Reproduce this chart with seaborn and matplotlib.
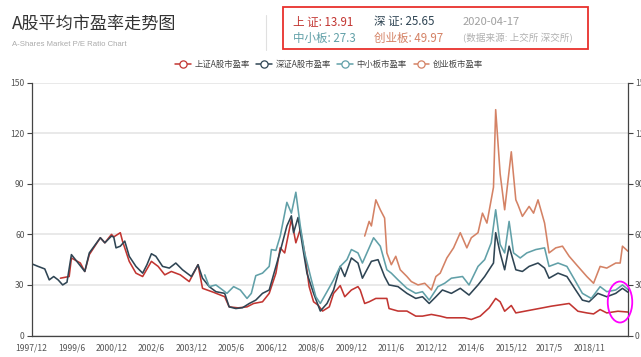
import matplotlib
matplotlib.use("Agg")
import matplotlib.pyplot as plt
from matplotlib.lines import Line2D
from matplotlib.patches import Ellipse, Rectangle
import seaborn as sns
import pandas as pd

# ---------------- data ----------------
sh_dates = ["1999-01", "1999-05", "1999-06", "1999-10", "1999-12", "2000-02", "2000-07", "2000-09",
            "2000-12", "2001-01", "2001-04", "2001-05", "2001-08", "2001-11", "2002-02", "2002-06",
            "2002-09", "2002-12", "2003-03", "2003-07", "2003-11", "2004-03", "2004-05", "2004-10",
            "2005-03", "2005-05", "2005-09", "2006-01", "2006-04", "2006-08", "2006-11", "2007-02",
            "2007-04", "2007-06", "2007-09", "2007-11", "2008-01", "2008-03", "2008-05", "2008-07",
            "2008-09", "2008-11", "2009-02", "2009-04", "2009-07", "2009-09", "2009-12", "2010-03",
            "2010-04", "2010-06", "2010-08", "2010-11", "2011-02", "2011-04", "2011-05", "2011-09",
            "2012-01", "2012-05", "2012-08", "2012-12", "2013-04", "2013-07", "2013-11", "2014-03",
            "2014-06", "2014-10", "2015-02", "2015-05", "2015-07", "2015-09", "2015-12", "2016-02",
            "2016-06", "2016-10", "2017-02", "2017-06", "2017-11", "2018-02", "2018-06", "2018-10",
            "2019-01", "2019-04", "2019-07", "2019-12", "2020-04-17"]
sh_pe = [34, 35, 46, 43, 38, 48, 58, 55,
         60, 58.5, 61, 56, 44, 37, 35, 44,
         41, 36, 38, 36, 32, 42, 28, 25.6,
         23, 17, 16.4, 17, 19, 20, 25, 37,
         52, 49, 69, 55, 63, 49, 29, 20,
         18, 14.5, 17, 25, 29.6, 23, 27, 29,
         27, 19, 20, 22, 22, 22, 16, 14.5,
         14.5, 11.5, 11.5, 12.5, 11.5, 10.5, 10.5, 10.5,
         9.5, 11.5, 16.4, 22, 20, 14.4, 17.8, 13.4,
         14.4, 15.4, 16.4, 17.4, 18.4, 19, 14.4, 13.4,
         12.8, 15.4, 13.4, 14.4, 13.91]

sz_dates = ["1997-12", "1998-03", "1998-06", "1998-08", "1998-10", "1998-12", "1999-02", "1999-04",
            "1999-06", "1999-09", "1999-12", "2000-02", "2000-07", "2000-09", "2000-12", "2001-01",
            "2001-02", "2001-04", "2001-06", "2001-08", "2001-11", "2002-02", "2002-04", "2002-06",
            "2002-08", "2002-11", "2003-02", "2003-05", "2003-08", "2003-12", "2004-03", "2004-05",
            "2004-08", "2004-11", "2005-03", "2005-05", "2005-08", "2005-11", "2006-02", "2006-05",
            "2006-08", "2006-11", "2007-02", "2007-04", "2007-07", "2007-09", "2007-10", "2007-12",
            "2008-02", "2008-04", "2008-07", "2008-10", "2009-01", "2009-04", "2009-07", "2009-09",
            "2009-12", "2010-03", "2010-05", "2010-09", "2010-12", "2011-03", "2011-05", "2011-09",
            "2012-01", "2012-05", "2012-08", "2012-11", "2013-02", "2013-05", "2013-09", "2014-01",
            "2014-05", "2014-09", "2014-12", "2015-04", "2015-05", "2015-07", "2015-09", "2015-11",
            "2016-02", "2016-05", "2016-08", "2016-12", "2017-03", "2017-05", "2017-09", "2018-01",
            "2018-05", "2018-08", "2018-11", "2019-03", "2019-07", "2019-11", "2020-02", "2020-04-17"]
sz_pe = [42.6, 41, 39.5, 33, 35, 33, 30, 31.6,
         48, 43, 38, 49, 58, 55, 59, 58.4,
         52, 53, 56, 47, 41, 37, 42, 48.5,
         47, 41, 40, 43, 39, 35, 42, 34,
         29, 26, 25, 17, 16, 16.5, 19, 21,
         25, 27, 41, 50, 65, 71, 61, 70,
         53, 37, 25, 14.5, 19, 27, 41, 35,
         46, 43, 34, 44, 45, 35, 30, 29,
         25, 22, 23, 19, 23, 27, 25, 28,
         24, 30, 35, 43, 61, 49, 39, 53,
         39, 38, 41, 43, 40, 34, 37, 35,
         27, 21, 20, 25, 23, 25, 28, 25.65]

sme_dates = ["2004-06", "2004-08", "2004-11", "2005-02", "2005-04", "2005-07", "2005-10", "2006-01",
             "2006-03", "2006-05", "2006-08", "2006-11", "2006-12", "2007-02", "2007-04", "2007-07",
             "2007-09", "2007-11", "2008-01", "2008-03", "2008-06", "2008-08", "2008-10", "2009-01",
             "2009-04", "2009-07", "2009-10", "2009-12", "2010-03", "2010-05", "2010-08", "2010-10",
             "2011-01", "2011-04", "2011-06", "2011-09", "2012-01", "2012-05", "2012-08", "2012-11",
             "2013-03", "2013-06", "2013-09", "2014-02", "2014-05", "2014-09", "2014-12", "2015-03",
             "2015-05", "2015-07", "2015-09", "2015-11", "2016-01", "2016-04", "2016-07", "2016-11",
             "2017-03", "2017-05", "2017-09", "2018-01", "2018-05", "2018-08", "2018-12", "2019-04",
             "2019-07", "2019-11", "2020-02", "2020-04-17"]
sme_pe = [36, 29, 30, 27, 25, 29, 27, 22,
          25, 35.5, 37, 41, 51, 50.5, 59, 79,
          72.6, 85, 65, 49, 33, 23, 19, 26,
          33, 41, 45, 51, 49, 43, 52, 58,
          53, 39, 37, 33, 28, 25, 26, 21,
          29, 31, 34, 35, 30, 41, 45, 55,
          74.6, 54, 49, 67.7, 49, 46, 49, 51,
          52, 41, 43, 41, 32, 25, 22, 29,
          26, 27, 30, 27.3]

gem_dates = ["2010-06", "2010-08", "2010-09", "2010-11", "2011-01", "2011-03", "2011-04", "2011-06",
             "2011-08", "2011-10", "2012-01", "2012-03", "2012-06", "2012-09", "2012-12", "2013-02",
             "2013-04", "2013-07", "2013-10", "2014-01", "2014-04", "2014-06", "2014-09", "2014-11",
             "2015-01", "2015-04", "2015-05", "2015-07", "2015-09", "2015-12", "2016-02", "2016-03",
             "2016-05", "2016-08", "2016-10", "2016-12", "2017-03", "2017-05", "2017-08", "2017-11",
             "2018-02", "2018-06", "2018-10", "2019-01", "2019-04", "2019-07", "2019-11", "2020-01",
             "2020-02", "2020-04-17"]
gem_pe = [59, 67.7, 65, 80.5, 74.6, 69.7, 49, 42,
          47, 39, 35, 32, 30, 31, 27, 35,
          37, 46, 52, 61, 52, 58, 61, 72.6,
          66.7, 88, 134, 96, 74.6, 109, 80.5, 77.6,
          70.7, 76.6, 72.6, 80.5, 66.7, 49, 52, 53,
          47, 41, 35, 31, 41, 40, 43, 43,
          53, 49.97]

series_names = ["上证A股市盈率", "深证A股市盈率", "中小板市盈率", "创业板市盈率"]
series_colors = ["#c23531", "#2f4554", "#61a0a8", "#d48265"]
tick_labels = ["1997/12", "1999/6", "2000/12", "2002/6", "2003/12", "2005/6", "2006/12", "2008/6",
               "2009/12", "2011/6", "2012/12", "2014/6", "2015/12", "2017/5", "2018/11"]
y_ticks = [0, 30, 60, 90, 120, 150]
latest = {"上 证": "13.91", "深 证": "25.65", "中小板": "27.3", "创业板": "49.97"}
latest_date = "2020-04-17"
source_note = "(数据来源: 上交所 深交所)"
title = "A股平均市盈率走势图"
subtitle = "A-Shares Market P/E Ratio Chart"

# ---------------- build long table ----------------
frames = []
for name, d, v in zip(series_names, [sh_dates, sz_dates, sme_dates, gem_dates],
                      [sh_pe, sz_pe, sme_pe, gem_pe]):
    frames.append(pd.DataFrame({"date": pd.to_datetime(d, format="ISO8601"), "pe": v, "series": name}))
df = pd.concat(frames, ignore_index=True)

# ---------------- style ----------------
sns.set_theme(style="white")
plt.rcParams["font.family"] = ["Noto Sans CJK SC", "DejaVu Sans"]

W, H = 641, 357
fig = plt.figure(figsize=(W / 100, H / 100), dpi=100)
ax = fig.add_axes([31.5 / W, 1 - 335.5 / H, (628 - 31.5) / W, (335.5 - 82.7) / H])

sns.lineplot(data=df, x="date", y="pe", hue="series", hue_order=series_names,
             palette=series_colors, linewidth=1.15, ax=ax, legend=False, sort=True)

ax.set_xlim(pd.Timestamp("1997-12-01"), pd.Timestamp("2020-04-17"))
ax.set_ylim(0, 150)
ax.set_yticks(y_ticks)
ax.set_xticks(pd.to_datetime(tick_labels, format="%Y/%m"))
ax.set_xticklabels(tick_labels)
ax.set_xlabel("")
ax.set_ylabel("")
ax.grid(axis="y", color="#e3e3e3", linewidth=1.1)
ax.grid(axis="x", visible=False)
for s in ["top", "right"]:
    ax.spines[s].set_visible(False)
for s in ["left", "bottom"]:
    ax.spines[s].set_color("#444444")
    ax.spines[s].set_linewidth(0.9)
ax.tick_params(axis="both", which="both", direction="out", length=3.5, width=0.8,
               color="#444444", labelsize=6.2, labelcolor="#555555", pad=1.5)
ax.tick_params(axis="x", pad=2)

ax2 = ax.twinx()
ax2.set_ylim(0, 150)
ax2.set_yticks(y_ticks)
ax2.grid(False)
for s in ["top", "left", "bottom"]:
    ax2.spines[s].set_visible(False)
ax2.spines["right"].set_color("#444444")
ax2.spines["right"].set_linewidth(0.9)
ax2.tick_params(axis="y", direction="out", length=3.5, width=0.8, color="#444444",
                labelsize=6.2, labelcolor="#555555", pad=1.5)

# ---------------- title block ----------------
fig.text(12 / W, 1 - 24 / H, title, fontsize=12.3, color="#333333", va="center", ha="left")
fig.text(12 / W, 1 - 44 / H, subtitle, fontsize=5.6, color="#aaaaaa", va="center", ha="left",
         family=["Liberation Sans", "DejaVu Sans"])
fig.add_artist(Line2D([266 / W, 266 / W], [1 - 15 / H, 1 - 50 / H], color="#e0e0e0", lw=0.8,
                      transform=fig.transFigure))

# ---------------- info box ----------------
fig.add_artist(Rectangle((283 / W, 1 - 49 / H), (588 - 283) / W, (49 - 7) / H, fill=False,
                         edgecolor="#e8302c", lw=1.3, transform=fig.transFigure))
keys = list(latest.keys())
fig.text(293 / W, 1 - 22 / H, f"{keys[0]}: {latest[keys[0]]}", fontsize=8.3, color=series_colors[0], va="center")
fig.text(374 / W, 1 - 22 / H, f"{keys[1]}: {latest[keys[1]]}", fontsize=8.3, color=series_colors[1], va="center")
fig.text(463 / W, 1 - 22 / H, latest_date, fontsize=8.0, color="#a0a0a0", va="center")
fig.text(293 / W, 1 - 38 / H, f"{keys[2]}: {latest[keys[2]]}", fontsize=8.3, color=series_colors[2], va="center")
fig.text(374 / W, 1 - 38 / H, f"{keys[3]}: {latest[keys[3]]}", fontsize=8.3, color=series_colors[3], va="center")
fig.text(463 / W, 1 - 38 / H, source_note, fontsize=6.9, color="#b0b0b0", va="center")

# ---------------- legend ----------------
handles = [Line2D([0], [0], color=c, lw=1.1, marker="o", markersize=5.2,
                  markerfacecolor="white", markeredgecolor=c, markeredgewidth=0.9)
           for c in series_colors]
leg = fig.legend(handles, series_names, loc="center", bbox_to_anchor=(329 / W, 1 - 64 / H),
                 ncol=4, frameon=False, fontsize=6, handlelength=1.9, handletextpad=0.4,
                 columnspacing=0.8, labelcolor="#444444")

# ---------------- highlight ellipse ----------------
fig.add_artist(Ellipse((620 / W, 1 - 302 / H), 24.5 / W, 41 / H, fill=False,
                       edgecolor="#ff00ff", lw=1.3, transform=fig.transFigure))

fig.savefig("out.png", dpi=100)
